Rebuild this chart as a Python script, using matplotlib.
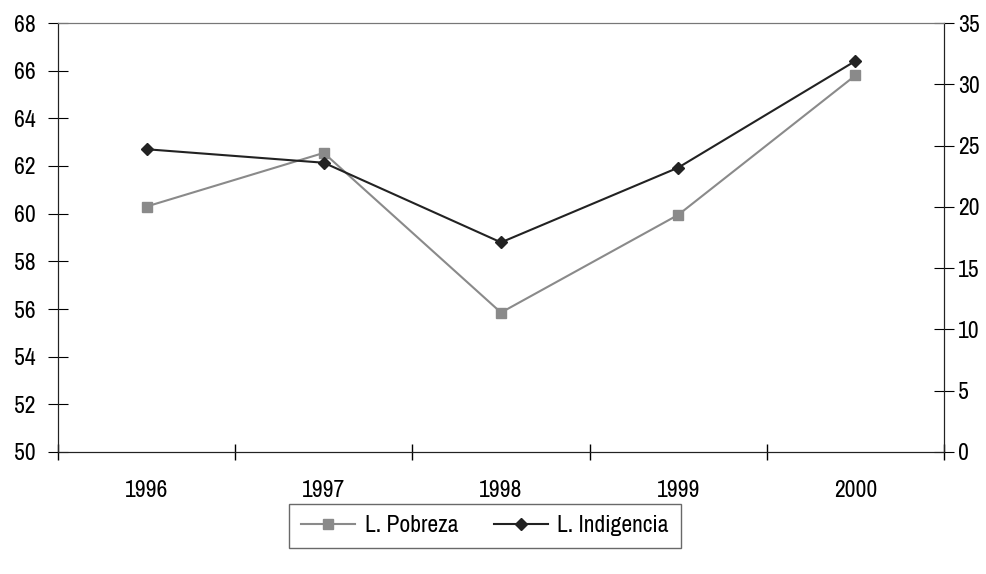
import numpy as np
import matplotlib
matplotlib.use('Agg')
import matplotlib.pyplot as plt
from matplotlib import font_manager

names = sorted({f.name for f in font_manager.fontManager.ttflist})
narrow = [n for n in names if 'Narrow' in n or 'Condensed' in n]
plt.rcParams['font.family'] = narrow[:1] + ['Liberation Sans', 'DejaVu Sans']

years = ['1996', '1997', '1998', '1999', '2000']
pobreza = [60.3, 62.55, 55.85, 59.95, 65.8]      # left axis
indigencia = [24.7, 23.6, 17.1, 23.2, 31.9]      # right axis

fig = plt.figure(figsize=(9.87, 5.74), dpi=100)
ax = fig.add_axes([58/987, 1-452/574, (944-58)/987, (452-23)/574])
ax2 = ax.twinx()

x = np.arange(len(years))
l1, = ax.plot(x, pobreza, color='#8a8a8a', marker='s', markersize=7, lw=1.5, label='L. Pobreza')
l2, = ax2.plot(x, indigencia, color='#222222', marker='D', markersize=6, lw=1.5, label='L. Indigencia')

ax.set_xlim(-0.5, len(years) - 0.5)
ax.set_ylim(50, 68)
ax.set_yticks(np.arange(50, 69, 2))
ax2.set_ylim(0, 35)
ax2.set_yticks(np.arange(0, 36, 5))

ax.set_xticks(x)
ax.set_xticklabels(years)
ax.set_xticks(np.arange(-0.5, len(years)), minor=True)
ax.tick_params(axis='x', which='major', length=0, pad=20, labelsize=17)
ax.tick_params(axis='x', which='minor', length=12, direction='inout', width=1)
ax.tick_params(axis='y', direction='inout', length=14, labelsize=17, pad=9)
ax2.tick_params(axis='y', direction='inout', length=14, labelsize=17, pad=3)

for a in (ax, ax2):
    a.spines['top'].set_color('#777777')
    a.spines['left'].set_color('#222222')
    a.spines['right'].set_color('#222222')
    a.spines['bottom'].set_color('#222222')

leg = fig.legend(handles=[l1, l2], loc='center', bbox_to_anchor=(485/987, 1-526/574),
                 ncol=2, fontsize=17, frameon=True, fancybox=False, edgecolor='#444444',
                 handlelength=2.3, handletextpad=0.4, columnspacing=1.5, borderpad=0.5)
leg.get_frame().set_linewidth(1)

fig.savefig('out.png', dpi=100)
